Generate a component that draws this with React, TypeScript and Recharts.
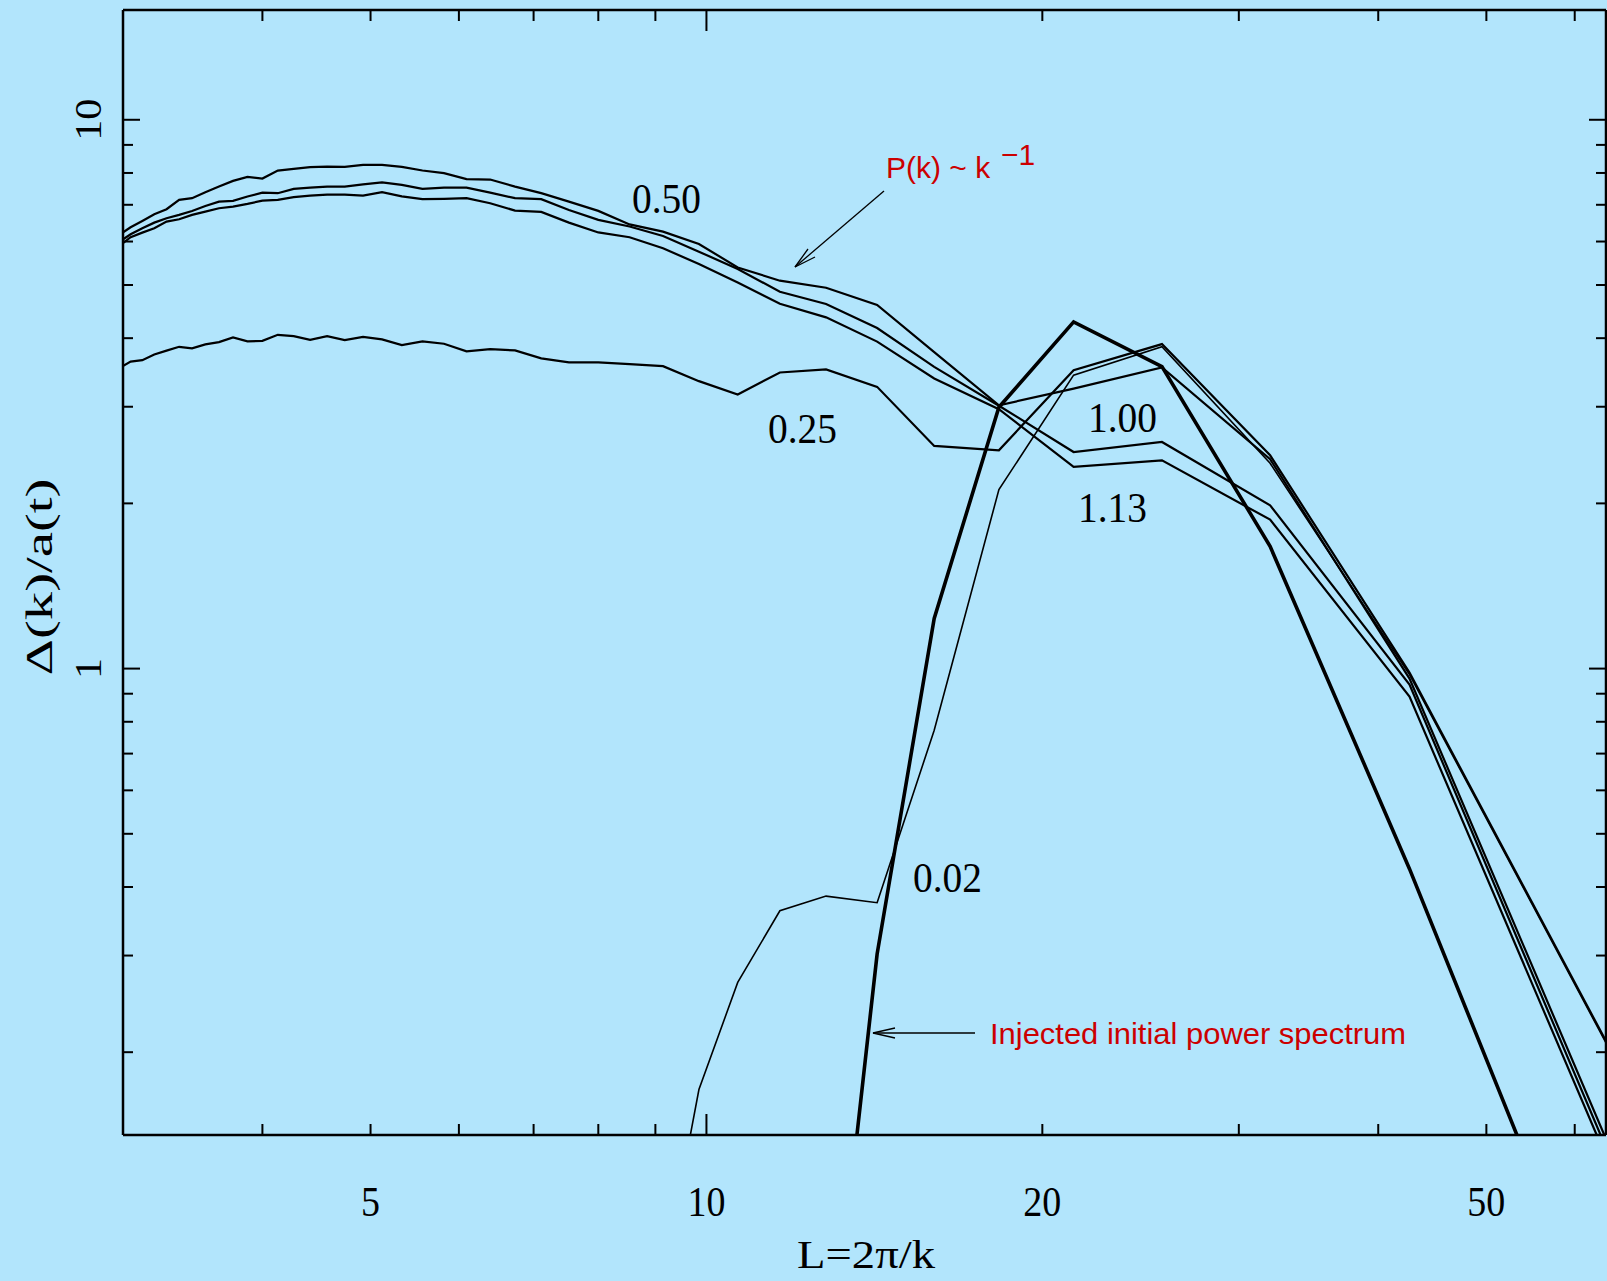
import { Line, LineChart, XAxis, YAxis } from "recharts";

// L = BOX_SIZE / k for each Fourier mode k of the box
const BOX_SIZE = 128;
const K_MODES = [
  2, 3, 4, 5, 6, 7, 8, 9, 10, 11, 12, 13, 14, 15, 16, 17, 18, 19, 20, 21, 22,
  23, 24, 25, 26, 27, 28, 29, 30, 31, 32, 33, 34, 35, 36, 37, 38, 39, 40, 41,
  42, 43,
];

// Delta(k)/a(t), one entry per K_MODES entry
const A_002 = [
  0.208, 0.975, 2.366, 3.858, 3.425, 2.119, 0.772, 0.3745, 0.385, 0.362, 0.268,
  0.171, 0.077, null, null, null, null, null, null, null, null, null, null,
  null, null, null, null, null, null, null, null, null, null, null, null, null,
  null, null, null, null, null, null,
];
const A_025 = [
  0.2095, 0.983, 2.447, 3.902, 3.498, 2.499, 2.545, 3.261, 3.508, 3.464, 3.158,
  3.34, 3.557, 3.587, 3.613, 3.613, 3.675, 3.799, 3.821, 3.784, 3.907, 3.946,
  3.885, 3.98, 4.023, 3.968, 4.035, 3.973, 4.035, 4.057, 3.956, 3.946, 4.013,
  3.935, 3.897, 3.832, 3.858, 3.796, 3.734, 3.648, 3.625, 3.528,
];
const A_050 = [
  0.139, 0.959, 2.407, 3.538, 3.236, 3.019, 3.773, 4.597, 4.943, 5.091, 5.381,
  5.939, 6.254, 6.447, 6.823, 7.095, 7.35, 7.556, 7.782, 7.795, 7.993, 8.082,
  8.209, 8.278, 8.278, 8.209, 8.219, 8.198, 8.14, 8.082, 7.814, 7.87, 7.739,
  7.556, 7.381, 7.197, 7.146, 6.872, 6.729, 6.542, 6.371, 6.168,
];
const A_100 = [
  0.134, 0.935, 1.984, 2.588, 2.481, 3.013, 3.547, 4.173, 4.616, 4.86, 5.347,
  5.75, 6.142, 6.392, 6.57, 6.851, 7.166, 7.197, 7.368, 7.525, 7.525, 7.484,
  7.61, 7.691, 7.626, 7.556, 7.556, 7.525, 7.484, 7.349, 7.368, 7.246, 7.115,
  7.095, 6.967, 6.822, 6.709, 6.616, 6.495, 6.344, 6.186, 5.989,
];
const A_113 = [
  0.129, 0.889, 1.868, 2.396, 2.332, 2.969, 3.378, 3.943, 4.365, 4.622, 5.052,
  5.46, 5.833, 6.109, 6.233, 6.495, 6.794, 6.831, 7.047, 7.197, 7.175, 7.166,
  7.252, 7.38, 7.276, 7.307, 7.307, 7.276, 7.228, 7.145, 7.123, 7.026, 6.947,
  6.9, 6.802, 6.709, 6.589, 6.523, 6.344, 6.228, 6.109, 5.89,
];
// injected initial power spectrum (thick line)
const INJECTED = [
  0.056, 0.4315, 1.67, 3.55, 4.283, 2.994, 1.234, 0.302, 0.0443, null, null,
  null, null, null, null, null, null, null, null, null, null, null, null, null,
  null, null, null, null, null, null, null, null, null, null, null, null, null,
  null, null, null, null, null,
];

const X_TICKS = [4, 5, 6, 7, 8, 9, 10, 20, 30, 40, 50, 60];
const X_LABELS = [5, 10, 20, 50];
const Y_TICKS = [
  0.2, 0.3, 0.4, 0.5, 0.6, 0.7, 0.8, 0.9, 1, 2, 3, 4, 5, 6, 7, 8, 9, 10,
];
const Y_LABELS = [1, 10];

const BG = "#b2e5fc";
const RED = "#cc0000";
const SERIF = "'Liberation Serif', 'DejaVu Serif', serif";
const SANS = "'Liberation Sans', Arial, sans-serif";

const data = K_MODES.map((k, i) => ({
  L: BOX_SIZE / k,
  a002: A_002[i],
  a025: A_025[i],
  a050: A_050[i],
  a100: A_100[i],
  a113: A_113[i],
  inj: INJECTED[i],
})).sort((p, q) => p.L - q.L);

const isMajor = (v: number) => v === 1 || v === 10;

// axes are 1px thick boxes, ticks are drawn inward from the axis line
function BottomTick({ x, y, payload }: any) {
  const v = payload.value;
  const y0 = y - 1;
  const len = isMajor(v) ? 20 : 10;
  return (
    <g>
      <line x1={x} y1={y0} x2={x} y2={y0 - len} stroke="#000" strokeWidth={2} />
      {X_LABELS.includes(v) && (
        <text
          x={x}
          y={y0 + 82}
          textAnchor="middle"
          fontFamily={SERIF}
          fontSize={42}
          textLength={String(v).length * 19}
          lengthAdjust="spacingAndGlyphs"
          fill="#000"
        >
          {v}
        </text>
      )}
    </g>
  );
}

function TopTick({ x, y, payload }: any) {
  const y0 = y + 1;
  const len = isMajor(payload.value) ? 20 : 10;
  return <line x1={x} y1={y0} x2={x} y2={y0 + len} stroke="#000" strokeWidth={2} />;
}

function LeftTick({ x, y, payload }: any) {
  const v = payload.value;
  const x0 = x + 1;
  const len = isMajor(v) ? 16 : 9;
  const tx = x0 - 23;
  return (
    <g>
      <line x1={x0} y1={y} x2={x0 + len} y2={y} stroke="#000" strokeWidth={2} />
      {Y_LABELS.includes(v) && (
        <text
          x={tx}
          y={y}
          transform={`rotate(-90, ${tx}, ${y})`}
          textAnchor="middle"
          fontFamily={SERIF}
          fontSize={38}
          textLength={String(v).length * 21}
          lengthAdjust="spacingAndGlyphs"
          fill="#000"
        >
          {v}
        </text>
      )}
    </g>
  );
}

function RightTick({ x, y, payload }: any) {
  const x0 = x - 1;
  const len = isMajor(payload.value) ? 16 : 9;
  return <line x1={x0} y1={y} x2={x0 - len} y2={y} stroke="#000" strokeWidth={2} />;
}

function CurveLabel({ x, y, text }: { x: number; y: number; text: string }) {
  return (
    <text
      x={x}
      y={y}
      fontFamily={SERIF}
      fontSize={42}
      textLength={69}
      lengthAdjust="spacingAndGlyphs"
      fill="#000"
    >
      {text}
    </text>
  );
}

const axisLine = { stroke: "#000", strokeWidth: 2.5 };

export default function App() {
  return (
    <div
      style={{
        position: "absolute",
        left: 0,
        top: 0,
        width: 1607,
        height: 1281,
        background: BG,
        overflow: "hidden",
      }}
    >
      <LineChart
        width={1607}
        height={1281}
        data={data}
        margin={{ top: 9, right: 0, bottom: 145, left: 122 }}
      >
        <XAxis
          xAxisId="b"
          dataKey="L"
          type="number"
          scale="log"
          domain={[3, 64]}
          allowDataOverflow
          orientation="bottom"
          height={1}
          ticks={X_TICKS}
          interval={0}
          tickSize={0}
          tickMargin={0}
          tickLine={false}
          axisLine={axisLine}
          tick={BottomTick}
        />
        <XAxis
          xAxisId="t"
          dataKey="L"
          type="number"
          scale="log"
          domain={[3, 64]}
          allowDataOverflow
          orientation="top"
          height={1}
          ticks={X_TICKS}
          interval={0}
          tickSize={0}
          tickMargin={0}
          tickLine={false}
          axisLine={axisLine}
          tick={TopTick}
        />
        <YAxis
          yAxisId="l"
          type="number"
          scale="log"
          domain={[0.1413, 15.85]}
          allowDataOverflow
          orientation="left"
          width={1}
          ticks={Y_TICKS}
          interval={0}
          tickSize={0}
          tickMargin={0}
          tickLine={false}
          axisLine={axisLine}
          tick={LeftTick}
        />
        <YAxis
          yAxisId="r"
          type="number"
          scale="log"
          domain={[0.1413, 15.85]}
          allowDataOverflow
          orientation="right"
          width={1}
          ticks={Y_TICKS}
          interval={0}
          tickSize={0}
          tickMargin={0}
          tickLine={false}
          axisLine={axisLine}
          tick={RightTick}
        />
        <Line xAxisId="b" yAxisId="l" dataKey="a002" stroke="#000" strokeWidth={1.6} dot={false} connectNulls={false} isAnimationActive={false} />
        <Line xAxisId="b" yAxisId="l" dataKey="a025" stroke="#000" strokeWidth={2.2} dot={false} isAnimationActive={false} />
        <Line xAxisId="b" yAxisId="l" dataKey="a050" stroke="#000" strokeWidth={2.2} dot={false} isAnimationActive={false} />
        <Line xAxisId="b" yAxisId="l" dataKey="a100" stroke="#000" strokeWidth={2.2} dot={false} isAnimationActive={false} />
        <Line xAxisId="b" yAxisId="l" dataKey="a113" stroke="#000" strokeWidth={2.2} dot={false} isAnimationActive={false} />
        <Line xAxisId="b" yAxisId="l" dataKey="inj" stroke="#000" strokeWidth={3.6} dot={false} connectNulls={false} isAnimationActive={false} />
      </LineChart>

      {/* annotations: curve labels, arrows, axis titles */}
      <svg
        width={1607}
        height={1281}
        style={{ position: "absolute", left: 0, top: 0, pointerEvents: "none" }}
      >
        <CurveLabel x={632} y={213} text="0.50" />
        <CurveLabel x={768} y={443} text="0.25" />
        <CurveLabel x={1088} y={432} text="1.00" />
        <CurveLabel x={1078} y={522} text="1.13" />
        <CurveLabel x={913} y={892} text="0.02" />

        <text x={886} y={178} fontFamily={SANS} fontSize={30} fill={RED}>
          P(k) ~ k
        </text>
        <text x={1001} y={165} fontFamily={SANS} fontSize={30} fill={RED}>
          −1
        </text>
        <g stroke="#000" strokeWidth={1.3} fill="none">
          <line x1={884} y1={191} x2={795} y2={267} />
          <polyline points="808,249 795,267 815,257" />
        </g>

        <text
          x={990}
          y={1044}
          fontFamily={SANS}
          fontSize={30}
          textLength={416}
          lengthAdjust="spacingAndGlyphs"
          fill={RED}
        >
          Injected initial power spectrum
        </text>
        <g stroke="#000" strokeWidth={1.3} fill="none">
          <line x1={975} y1={1033} x2={873} y2={1033} />
          <polyline points="895,1028 873,1033 895,1038" />
        </g>

        <text
          x={866}
          y={1268}
          textAnchor="middle"
          fontFamily={SERIF}
          fontSize={40}
          textLength={138}
          lengthAdjust="spacingAndGlyphs"
          fill="#000"
        >
          L=2π/k
        </text>
        <text
          x={52}
          y={577}
          transform="rotate(-90, 52, 577)"
          textAnchor="middle"
          fontFamily={SERIF}
          fontSize={38}
          textLength={197}
          lengthAdjust="spacingAndGlyphs"
          fill="#000"
        >
          Δ(k)/a(t)
        </text>
      </svg>
    </div>
  );
}
